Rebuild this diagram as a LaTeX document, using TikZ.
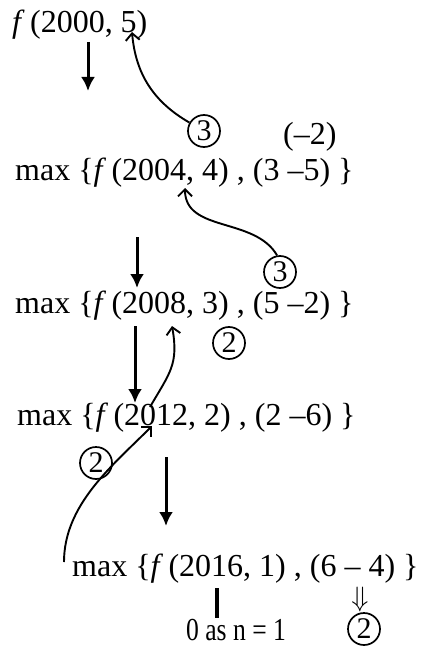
\documentclass[tikz,border=0pt]{standalone}
\usepackage{fix-cm}
\usepackage{fontspec}
\setmainfont{Liberation Serif}
\usetikzlibrary{arrows.meta}

\tikzset{
  txt/.style={anchor=base west, inner sep=0pt, font=\fontsize{32}{38}\selectfont},
  circ/.style={draw, circle, line width=1.7pt, minimum size=32pt, inner sep=0pt,
               font=\fontsize{30}{32}\selectfont},
  down/.style={line width=3pt, -{Latex[length=14pt,width=14pt]}},
  bar/.style={line width=3.2pt},
  curv/.style={line width=1.9pt, -{Straight Barb[length=7pt,width=14pt]}},
}

\newcommand{\fn}{\textit{f}\,}

\begin{document}
\begin{tikzpicture}[x=1pt,y=-1pt]
\useasboundingbox (0,0) rectangle (422,647);

%---------------------------------------
% Rows of the recursion
%---------------------------------------
\node[txt] (r1) at (12,33)  {\fn(2000, 5)};
\node[txt] (r2) at (15,180) {max \{\fn(2004, 4) , (3 --5) \}};
\node[txt] (r3) at (15,313) {max \{\fn(2008, 3) , (5 --2) \}};
\node[txt] (r4) at (17,425) {max \{\fn(2012, 2) , (2 --6) \}};
\node[txt] (r5) at (72,576) {max \{\fn(2016, 1) , (6 -- 4) \}};

\node[txt] (m2)   at (283,145) {(--2)};
\node[txt, xscale=0.8] (base) at (186,640) {0 as n = 1};
\node[inner sep=0pt, font=\fontsize{28}{30}\selectfont] (dd) at (360,599) {$\Downarrow$};

%---------------------------------------
% Circled values
%---------------------------------------
\node[circ] (c1) at (204,131) {3};
\node[circ] (c2) at (280,272) {3};
\node[circ] (c3) at (229,343) {2};
\node[circ] (c4) at (96,463)  {2};
\node[circ] (c5) at (364,629) {2};

%---------------------------------------
% End points of the arrows
%---------------------------------------
\coordinate (a1s) at (88,42);   \coordinate (a1e) at (88,91);
\coordinate (a2s) at (137,237); \coordinate (a2e) at (137,288);
\coordinate (a3s) at (135,326); \coordinate (a3e) at (135,403);
\coordinate (a4s) at (166,457); \coordinate (a4e) at (166,526);
\coordinate (bs)  at (217,588); \coordinate (be)  at (217,618);

\coordinate (t1) at (132,32);
\coordinate (t2) at (185,188);
\coordinate (t3) at (172,326);
\coordinate (t4) at (152,426);
\coordinate (s3) at (150,407);
\coordinate (s4) at (64,562);

% straight arrows
\draw[down] (a1s) -- (a1e);
\draw[down] (a2s) -- (a2e);
\draw[down] (a3s) -- (a3e);
\draw[down] (a4s) -- (a4e);
\draw[bar]  (bs) -- (be);

% curved arrows
\draw[curv] (c1.150) to[out=150, in=-85] (t1);
\draw[curv] (c2.100) to[out=120, in=-90] (t2);
\draw[curv] (s3) to[out=60, in=-80, looseness=1.2] (t3);
\draw[curv] (s4) to[out=90, in=-135, looseness=0.9] (t4);

\end{tikzpicture}
\end{document}
